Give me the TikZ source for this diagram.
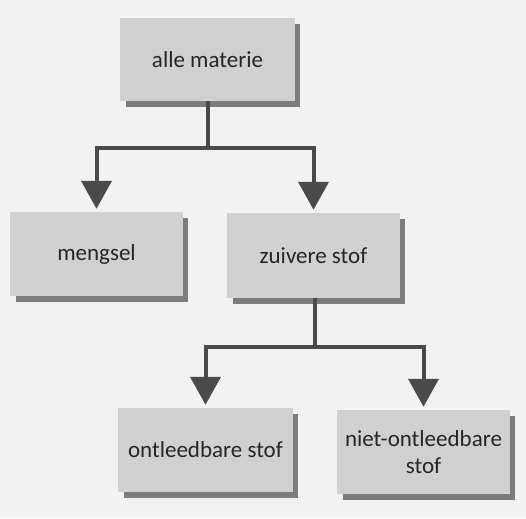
\documentclass[tikz,border=0pt]{standalone}
\usepackage{fontspec}
\setmainfont{Carlito}
\usetikzlibrary{arrows.meta}
\definecolor{boxfill}{HTML}{D0D0D0}
\definecolor{boxshadow}{HTML}{7C7C7C}
\definecolor{conncol}{HTML}{4A4A4A}
\definecolor{bgcol}{HTML}{F2F2F2}
\tikzset{
  cbox/.style={fill=boxfill, inner sep=0pt, align=center, text=black!85,
    font=\fontsize{23}{27}\selectfont},
  shadowrect/.style={fill=boxshadow},
  connline/.style={draw=conncol, line width=4pt},
  connarrow/.style={draw=conncol, line width=4pt,
    -{Triangle[width=30pt,length=28pt]}, shorten >=3pt}
}
\newcommand{\shadowbox}[6]{% name, x1, y1, x2, y2, text
  \fill[shadowrect] (#2+6,#3+6) rectangle (#4+5,#5+6);
  \node[cbox, minimum width=#4-#2, minimum height=#5-#3] (#1) at ({(#2+#4)/2},{(#3+#5)/2}) {#6};
}
\begin{document}
\begin{tikzpicture}[x=1pt,y=-1pt]
\useasboundingbox (0,0) rectangle (526,518);
\fill[bgcol] (0,0) rectangle (526,518);
\shadowbox{am}{120}{18}{295}{101}{alle materie}
\shadowbox{meng}{10}{212}{183}{296}{mengsel}
\shadowbox{zs}{227}{213}{400}{298}{zuivere stof}
\shadowbox{ont}{118}{408}{293}{492}{ontleedbare stof}
\shadowbox{niet}{337}{410}{510}{494}{niet-ontleedbare\\stof}
\coordinate (j1) at (207.5,148);
\coordinate (j2) at (315,347);
\draw[connline] (am.south) -- (j1);
\draw[connarrow] (j1) -| (meng.north);
\draw[connarrow] (j1) -| (zs.north);
\draw[connline] (zs.south -| j2) -- (j2);
\draw[connarrow] (j2) -| (ont.north);
\draw[connarrow] (j2) -| (niet.north);
\end{tikzpicture}
\end{document}
